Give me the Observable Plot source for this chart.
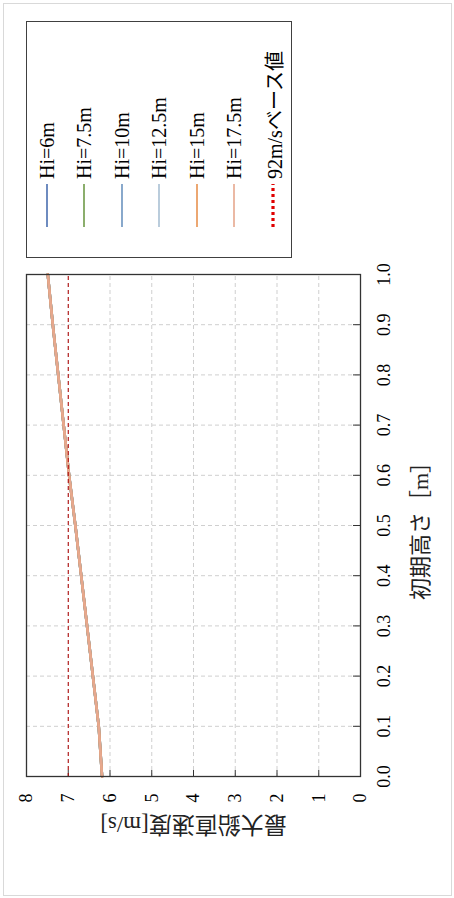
<!DOCTYPE html>
<html>
<head>
<meta charset="utf-8">
<script src="https://cdn.jsdelivr.net/npm/d3@7"></script>
<script src="https://cdn.jsdelivr.net/npm/@observablehq/plot@0.6"></script>
<style>
  html, body { margin: 0; padding: 0; background: #fff; width: 454px; height: 898px; overflow: hidden; }
  #chart {
    position: absolute; left: 0; top: 0; width: 898px; height: 454px;
    transform-origin: 0 0; transform: translate(0px, 898px) rotate(-90deg);
    font-family: "Liberation Serif", "Times New Roman", Tinos, "DejaVu Serif", "Noto Sans CJK JP", serif;
    background: #fff;
  }
  #outer { position: absolute; left: 2px; top: 3px; width: 891px; height: 447px; border: 1px solid #d9d9d9; }
  #plot { position: absolute; left: 0; top: 0; }
  #legend {
    position: absolute; left: 640px; top: 26px; width: 235px; height: 264px;
    border: 1px solid #404040; background: #fff;
  }
  .item { position: absolute; left: 0; height: 20px; display: flex; align-items: center; font-size: 20px; color: #000; white-space: nowrap; }
  .item svg { margin-left: 30px; margin-right: 5px; }
</style>
</head>
<body>
<div id="chart">
  <div id="outer"></div>
  <div id="plot"></div>
  <div id="legend"></div>
</div>
<script>
// ---- data ----
const heights = [0.0, 0.1, 0.2, 0.3, 0.4, 0.5, 0.6, 0.7, 0.8, 0.9, 1.0];
const vHi6    = [6.19, 6.27, 6.41, 6.55, 6.69, 6.83, 6.98, 7.11, 7.24, 7.37, 7.49];
const vHi7_5  = [6.19, 6.27, 6.41, 6.55, 6.69, 6.83, 6.98, 7.11, 7.24, 7.37, 7.49];
const vHi10   = [6.19, 6.27, 6.41, 6.55, 6.69, 6.83, 6.98, 7.11, 7.24, 7.37, 7.49];
const vHi12_5 = [6.19, 6.27, 6.41, 6.55, 6.69, 6.83, 6.98, 7.11, 7.24, 7.37, 7.49];
const vHi15   = [6.19, 6.27, 6.41, 6.55, 6.69, 6.83, 6.98, 7.11, 7.24, 7.37, 7.49];
const vHi17_5 = [6.19, 6.27, 6.41, 6.55, 6.69, 6.83, 6.98, 7.11, 7.24, 7.37, 7.49];
const seriesNames = ["Hi=6m", "Hi=7.5m", "Hi=10m", "Hi=12.5m", "Hi=15m", "Hi=17.5m"];
const seriesValues = [vHi6, vHi7_5, vHi10, vHi12_5, vHi15, vHi17_5];
const seriesColors = ["#4a6fb0", "#6f9a48", "#6b93bf", "#a9c0d4", "#e8924f", "#e6a88e"];
const baseLabel = "92m/sベース値";
const baseValue = [7];
const baseColor = "#b00000";
const xTicks = [0.0, 0.1, 0.2, 0.3, 0.4, 0.5, 0.6, 0.7, 0.8, 0.9, 1.0];
const yTicks = [0, 1, 2, 3, 4, 5, 6, 7, 8];
const xLabel = "初期高さ［m］";
const yLabel = "最大鉛直速度[m/s]";

// ---- table ----
const rows = seriesNames.flatMap((s, i) => heights.map((h, j) => ({series: s, h, v: seriesValues[i][j]})));

const FONT = '"Liberation Serif", "Times New Roman", Tinos, "DejaVu Serif", "Noto Sans CJK JP", serif';
const W = 898, H = 454, mL = 121, mR = 275, mT = 26, mB = 94;
const fw = W - mL - mR, fh = H - mT - mB;
const grid = {stroke: "#cfcfcf", strokeOpacity: 1, strokeDasharray: "4,3", strokeWidth: 1};

const chart = Plot.plot({
  width: W, height: H,
  marginLeft: mL, marginRight: mR, marginTop: mT, marginBottom: mB,
  style: {fontFamily: FONT, fontSize: "18px", background: "transparent", color: "#000"},
  x: {domain: [0, 1]},
  y: {domain: [0, 8]},
  color: {domain: seriesNames, range: seriesColors},
  marks: [
    Plot.gridX(xTicks.slice(1, -1), grid),
    Plot.gridY(yTicks.slice(1, -1), grid),
    Plot.ruleX(xTicks, {x: d => d, insetTop: fh - 7, stroke: "#333"}),
    Plot.ruleY(yTicks, {y: d => d, insetRight: fw - 7, stroke: "#333"}),
    Plot.axisX({ticks: xTicks, tickFormat: d3.format(".1f"), tickSize: 0, tickPadding: 17, label: null, fontSize: 18, fontFamily: FONT}),
    Plot.axisY({ticks: yTicks, tickFormat: d3.format("d"), tickSize: 0, tickPadding: 17, label: null, fontSize: 18, fontFamily: FONT}),
    Plot.line(rows, {x: "h", y: "v", z: "series", stroke: "series", strokeWidth: 2.6}),
    Plot.ruleY(baseValue, {y: d => d, stroke: baseColor, strokeWidth: 1, strokeDasharray: "4,3"}),
    Plot.frame({stroke: "#333", strokeWidth: 1.3}),
    Plot.text([xLabel], {text: d => d, frameAnchor: "bottom", dy: 60, lineAnchor: "middle", textAnchor: "middle", fontSize: 22, fill: "#222", fontFamily: FONT}),
    Plot.text([yLabel], {text: d => d, frameAnchor: "left", dx: -48, rotate: -90, lineAnchor: "middle", textAnchor: "middle", fontSize: 23, fill: "#222", fontFamily: FONT})
  ]
});
document.getElementById("plot").appendChild(chart);

// ---- legend ----
const legend = document.getElementById("legend");
const entries = seriesNames.map((s, i) => ({label: s, color: seriesColors[i], dash: null, w: 1.6}))
  .concat([{label: baseLabel, color: "#e00000", dash: "3,3", w: 3.2}]);
const rowY = [20, 57, 95, 132, 170, 207, 246];
entries.forEach((e, i) => {
  const div = document.createElement("div");
  div.className = "item";
  div.style.top = (rowY[i] - 10) + "px";
  div.innerHTML = `<svg width="43" height="8"><line x1="0" y1="4" x2="43" y2="4" stroke="${e.color}" stroke-width="${e.w}" ${e.dash ? `stroke-dasharray="${e.dash}"` : ""}/></svg><span>${e.label}</span>`;
  legend.appendChild(div);
});
</script>
</body>
</html>
